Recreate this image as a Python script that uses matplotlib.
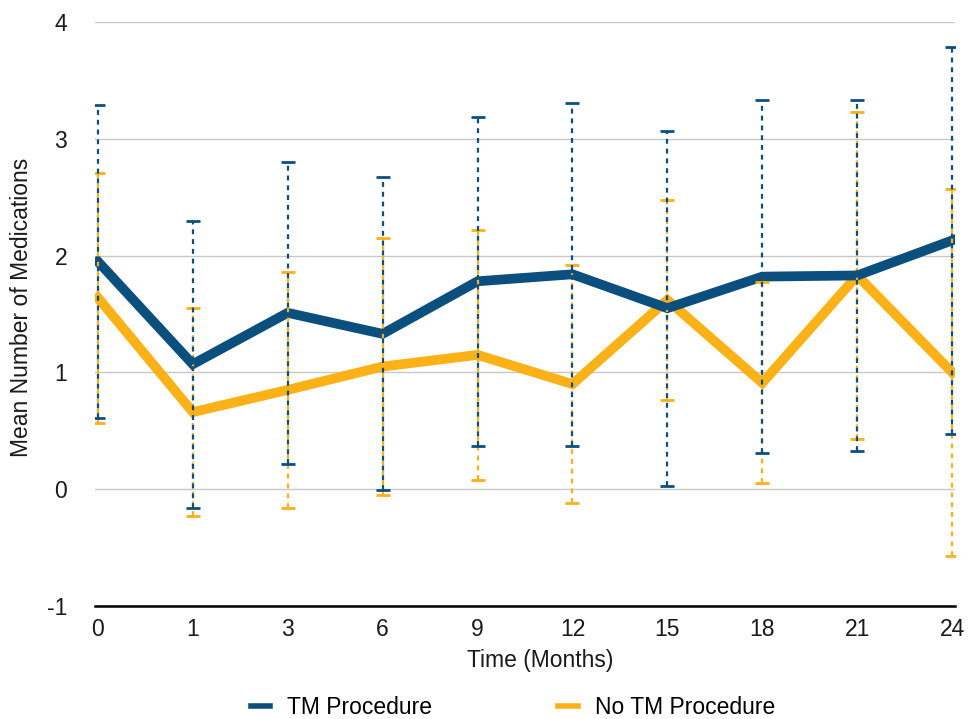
import matplotlib
matplotlib.use("Agg")
import matplotlib.pyplot as plt

plt.rcParams['font.family'] = ['Liberation Sans', 'DejaVu Sans']
plt.rcParams['axes.unicode_minus'] = False

# follow-up visits (months) and mean number of medications, +/- SD
months = ['0', '1', '3', '6', '9', '12', '15', '18', '21', '24']
tm_mean = [1.95, 1.07, 1.51, 1.33, 1.78, 1.84, 1.55, 1.82, 1.83, 2.13]
tm_sd = [1.34, 1.23, 1.29, 1.34, 1.41, 1.47, 1.52, 1.51, 1.50, 1.66]
no_tm_mean = [1.64, 0.66, 0.85, 1.05, 1.15, 0.90, 1.62, 0.91, 1.83, 1.00]
no_tm_sd = [1.07, 0.89, 1.01, 1.10, 1.07, 1.02, 0.86, 0.86, 1.40, 1.57]

blue = '#0b4f7f'
yellow = '#fcb116'
fs = 16.5

fig = plt.figure(figsize=(9.68, 7.19), dpi=100)
ax = fig.add_axes([95 / 968, 1 - 606 / 719, 860 / 968, (606 - 22) / 719])

x = list(range(len(months)))

ax.plot(x, no_tm_mean, color=yellow, lw=7, solid_joinstyle='miter', zorder=3, label='No TM Procedure')
ax.plot(x, tm_mean, color=blue, lw=7, solid_joinstyle='miter', zorder=4, label='TM Procedure')

# dotted error bars drawn over the lines
for mean, sd, col, z in [(no_tm_mean, no_tm_sd, yellow, 5), (tm_mean, tm_sd, blue, 6)]:
    eb = ax.errorbar(x, mean, yerr=sd, fmt='none', ecolor=col, elinewidth=1.6,
                     capsize=5, capthick=2, zorder=z)
    eb[2][0].set_linestyle((0, (2.2, 2.2)))

ax.set_ylim(-1, 4)
ax.set_yticks([-1, 0, 1, 2, 3, 4])
ax.set_xlim(-0.03, 9.03)
ax.set_xticks(x)
ax.set_xticklabels(months)

ax.grid(axis='y', color='#c8c8c8', lw=1)
ax.set_axisbelow(True)
for s in ['top', 'right', 'left']:
    ax.spines[s].set_visible(False)
ax.spines['bottom'].set_color('black')
ax.spines['bottom'].set_linewidth(1.8)
ax.spines['bottom'].set_zorder(7)

ax.tick_params(axis='both', length=0, labelsize=fs, labelcolor='#1a1a1a')
ax.tick_params(axis='y', pad=20)
ax.tick_params(axis='x', pad=9)

# y label anchored by its right edge (bottom before rotation)
ax.set_ylabel('Mean Number of Medications', fontsize=fs, color='#1a1a1a')
ax.yaxis.set_label_coords((33 - 95) / 860, (719 - 307 - 113) / 584)
ax.set_xlabel('Time (Months)', fontsize=fs, color='#1a1a1a')
ax.xaxis.set_label_coords((540 - 95) / 860, -(660 - 606) / 584)
ax.xaxis.label.set_va('center')

handles, labels = ax.get_legend_handles_labels()
leg = fig.legend(handles[::-1], labels[::-1], loc='center', bbox_to_anchor=(513 / 968, 11 / 719),
                 ncol=2, frameon=False, fontsize=fs, handlelength=0.85, columnspacing=5.5,
                 handletextpad=0.75)
for h in leg.legend_handles:
    h.set_linewidth(4)

fig.savefig('out.png', dpi=100)
